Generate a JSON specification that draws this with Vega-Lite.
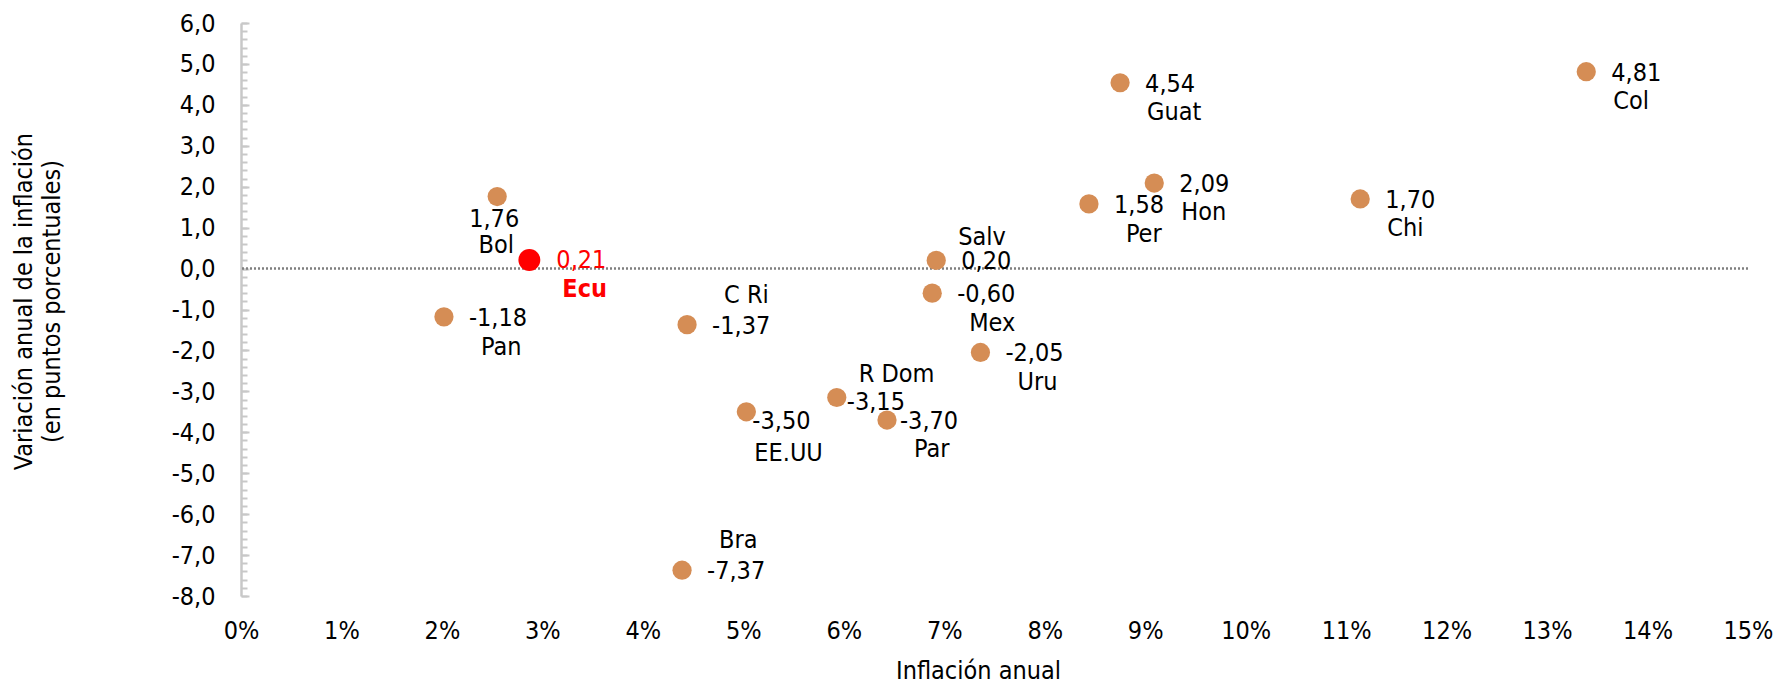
{
  "$schema": "https://vega.github.io/schema/vega-lite/v6.json",
  "width": 1507,
  "height": 573,
  "autosize": "none",
  "padding": {"left": 241, "top": 23, "right": 32, "bottom": 88},
  "background": "white",
  "config": {
    "view": {"stroke": null},
    "locale": {"number": {"decimal": ",", "thousands": ".", "grouping": [3], "currency": ["", "€"], "minus": "-"}},
    "text": {"font": "DejaVu Sans Condensed, Liberation Sans, sans-serif", "fontSize": 25, "color": "#000000"}
  },
  "data": {"values": [
    {"pais": "Bol", "inf": 2.55, "var": 1.76},
    {"pais": "Ecu", "inf": 2.87, "var": 0.21},
    {"pais": "Pan", "inf": 2.02, "var": -1.18},
    {"pais": "C Ri", "inf": 4.44, "var": -1.37},
    {"pais": "EE.UU", "inf": 5.03, "var": -3.50},
    {"pais": "Bra", "inf": 4.39, "var": -7.37},
    {"pais": "R Dom", "inf": 5.93, "var": -3.15},
    {"pais": "Par", "inf": 6.43, "var": -3.70},
    {"pais": "Mex", "inf": 6.88, "var": -0.60},
    {"pais": "Salv", "inf": 6.92, "var": 0.20},
    {"pais": "Uru", "inf": 7.36, "var": -2.05},
    {"pais": "Per", "inf": 8.44, "var": 1.58},
    {"pais": "Guat", "inf": 8.75, "var": 4.54},
    {"pais": "Hon", "inf": 9.09, "var": 2.09},
    {"pais": "Chi", "inf": 11.14, "var": 1.70},
    {"pais": "Col", "inf": 13.39, "var": 4.81}
  ]},
  "encoding": {
    "x": {
      "field": "inf", "type": "quantitative",
      "scale": {"domain": [0, 15], "nice": false},
      "axis": {
        "values": [0,1,2,3,4,5,6,7,8,9,10,11,12,13,14,15],
        "labelExpr": "datum.value + '%'",
        "labelFlush": false, "labelOverlap": false,
        "domain": false, "ticks": false, "grid": false,
        "labelFont": "DejaVu Sans Condensed, Liberation Sans, sans-serif", "labelFontSize": 25, "labelColor": "#000000",
        "labelPadding": 22,
        "title": "Inflación anual",
        "titleFont": "DejaVu Sans Condensed, Liberation Sans, sans-serif", "titleFontSize": 25, "titleFontWeight": "normal", "titleColor": "#000000",
        "titleX": 737, "titleY": 74, "titleBaseline": "middle"
      }
    }
  },
  "layer": [
    {
      "data": {"values": [{}]},
      "mark": {"type": "rule", "color": "#7F7F7F", "strokeWidth": 2.5, "strokeDash": [2, 2]},
      "encoding": {
        "x": null,
        "y": {
          "datum": 0, "type": "quantitative",
          "scale": {"domain": [-8, 6], "nice": false},
          "axis": {
            "orient": "left",
            "values": [-8,-7,-6,-5,-4,-3,-2,-1,0,1,2,3,4,5,6],
            "format": ".1f",
            "labelOverlap": false, "labelFlush": false, "grid": false,
            "domainColor": "#C8C8C8", "domainWidth": 2.5,
            "tickColor": "#C8C8C8", "tickWidth": 2, "tickSize": -8,
            "labelFont": "DejaVu Sans Condensed, Liberation Sans, sans-serif", "labelFontSize": 25, "labelColor": "#000000",
            "labelPadding": 34,
            "title": ["Variación anual de la inflación", "(en puntos porcentuales)"],
            "titleFont": "DejaVu Sans Condensed, Liberation Sans, sans-serif", "titleFontSize": 25, "titleFontWeight": "normal", "titleColor": "#000000",
            "titleLineHeight": 28,
            "titleX": -218, "titleY": 278, "titleBaseline": "middle", "titleAlign": "center", "titleAngle": 270
          }
        }
      }
    },
    {
      "mark": {"type": "circle", "opacity": 1},
      "encoding": {
        "y": {
          "field": "var", "type": "quantitative",
          "axis": {"orient": "left", "tickCount": 70, "labels": false, "domain": false, "grid": false,
                   "tickColor": "#C8C8C8", "tickWidth": 2, "tickSize": -6, "title": null}
        },
        "color": {"condition": {"test": "datum.pais === 'Ecu'", "value": "#FF0000"}, "value": "#D58D55"},
        "size": {"condition": {"test": "datum.pais === 'Ecu'", "value": 480}, "value": 370}
      }
    },
    {
      "transform": [{"filter": {"field": "pais", "oneOf": ["Pan", "C Ri", "Bra", "Mex", "Salv", "Uru", "Per", "Guat", "Hon", "Chi", "Col"]}}],
      "mark": {"type": "text", "align": "left", "baseline": "middle", "dx": 25, "dy": 1},
      "encoding": {"y": {"field": "var", "type": "quantitative", "axis": null}, "text": {"field": "var", "type": "quantitative", "format": ".2f"}}
    },
    {
      "transform": [{"filter": {"field": "pais", "equal": "EE.UU"}}],
      "mark": {"type": "text", "align": "left", "baseline": "middle", "dx": 6, "dy": 9},
      "encoding": {"y": {"field": "var", "type": "quantitative", "axis": null}, "text": {"field": "var", "type": "quantitative", "format": ".2f"}}
    },
    {
      "transform": [{"filter": {"field": "pais", "equal": "R Dom"}}],
      "mark": {"type": "text", "align": "left", "baseline": "middle", "dx": 10, "dy": 5},
      "encoding": {"y": {"field": "var", "type": "quantitative", "axis": null}, "text": {"field": "var", "type": "quantitative", "format": ".2f"}}
    },
    {
      "transform": [{"filter": {"field": "pais", "equal": "Par"}}],
      "mark": {"type": "text", "align": "left", "baseline": "middle", "dx": 13, "dy": 1},
      "encoding": {"y": {"field": "var", "type": "quantitative", "axis": null}, "text": {"field": "var", "type": "quantitative", "format": ".2f"}}
    },
    {
      "transform": [{"filter": {"field": "pais", "equal": "Bol"}}],
      "mark": {"type": "text", "align": "center", "baseline": "middle", "dx": -3, "dy": 22},
      "encoding": {"y": {"field": "var", "type": "quantitative", "axis": null}, "text": {"field": "var", "type": "quantitative", "format": ".2f"}}
    },
    {
      "transform": [{"filter": {"field": "pais", "equal": "Bol"}}],
      "mark": {"type": "text", "align": "center", "baseline": "middle", "dx": -1, "dy": 48},
      "encoding": {"y": {"field": "var", "type": "quantitative", "axis": null}, "text": {"field": "pais"}}
    },
    {
      "transform": [{"filter": {"field": "pais", "equal": "Ecu"}}],
      "mark": {"type": "text", "align": "left", "baseline": "middle", "dx": 27, "dy": 0, "color": "#FF0000"},
      "encoding": {"y": {"field": "var", "type": "quantitative", "axis": null}, "text": {"field": "var", "type": "quantitative", "format": ".2f"}}
    },
    {
      "transform": [{"filter": {"field": "pais", "equal": "Ecu"}}],
      "mark": {"type": "text", "align": "left", "baseline": "middle", "dx": 33, "dy": 29, "color": "#FF0000", "fontWeight": "bold"},
      "encoding": {"y": {"field": "var", "type": "quantitative", "axis": null}, "text": {"field": "pais"}}
    },
    {
      "transform": [{"filter": {"field": "pais", "oneOf": ["Pan", "Mex", "Per", "Uru"]}}],
      "mark": {"type": "text", "align": "left", "baseline": "middle", "dx": 37, "dy": 30},
      "encoding": {"y": {"field": "var", "type": "quantitative", "axis": null}, "text": {"field": "pais"}}
    },
    {
      "transform": [{"filter": {"field": "pais", "oneOf": ["Par", "Guat", "Hon", "Chi", "Col"]}}],
      "mark": {"type": "text", "align": "left", "baseline": "middle", "dx": 27, "dy": 29},
      "encoding": {"y": {"field": "var", "type": "quantitative", "axis": null}, "text": {"field": "pais"}}
    },
    {
      "transform": [{"filter": {"field": "pais", "oneOf": ["C Ri", "Bra"]}}],
      "mark": {"type": "text", "align": "left", "baseline": "middle", "dx": 37, "dy": -30},
      "encoding": {"y": {"field": "var", "type": "quantitative", "axis": null}, "text": {"field": "pais"}}
    },
    {
      "transform": [{"filter": {"field": "pais", "oneOf": ["R Dom", "Salv"]}}],
      "mark": {"type": "text", "align": "left", "baseline": "middle", "dx": 22, "dy": -23},
      "encoding": {"y": {"field": "var", "type": "quantitative", "axis": null}, "text": {"field": "pais"}}
    },
    {
      "transform": [{"filter": {"field": "pais", "equal": "EE.UU"}}],
      "mark": {"type": "text", "align": "left", "baseline": "middle", "dx": 8, "dy": 41},
      "encoding": {"y": {"field": "var", "type": "quantitative", "axis": null}, "text": {"field": "pais"}}
    }
  ],
  "resolve": {"axis": {"y": "independent"}}
}
